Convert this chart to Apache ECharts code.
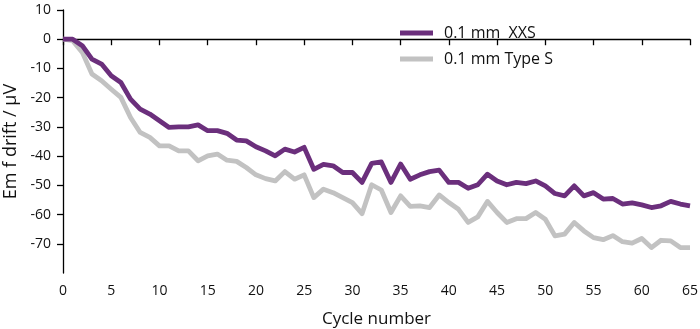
<!DOCTYPE html>
<html>
<head>
<meta charset="utf-8">
<script src="https://cdn.jsdelivr.net/npm/echarts@6/dist/echarts.min.js"></script>
<style>html,body{margin:0;padding:0;background:#fff}#c{width:700px;height:329px}</style>
</head>
<body>
<div id="c"></div>
<script>
const cycles = [0,1,2,3,4,5,6,7,8,9,10,11,12,13,14,15,16,17,18,19,20,21,22,23,24,25,26,27,28,29,30,31,32,33,34,35,36,37,38,39,40,41,42,43,44,45,46,47,48,49,50,51,52,53,54,55,56,57,58,59,60,61,62,63,64,65];
const xxs = [0,0,-2.2,-6.8,-8.5,-12.5,-14.8,-20.5,-23.9,-25.6,-27.9,-30.2,-30,-30,-29.3,-31.3,-31.3,-32.2,-34.5,-34.8,-36.8,-38.2,-39.9,-37.6,-38.6,-37.0,-44.5,-42.8,-43.3,-45.6,-45.6,-49,-42.5,-42,-49,-42.7,-47.9,-46.4,-45.3,-44.8,-49,-49,-51,-49.8,-46.2,-48.5,-49.8,-49,-49.4,-48.5,-50.2,-52.8,-53.6,-50.2,-53.6,-52.5,-54.7,-54.5,-56.4,-56,-56.7,-57.6,-57,-55.5,-56.4,-57];
const typeS = [0,-0.5,-4.5,-11.9,-14.2,-17.1,-19.9,-26.8,-31.9,-33.6,-36.5,-36.5,-38.2,-38.2,-41.6,-39.9,-39.3,-41.4,-41.8,-43.9,-46.4,-47.7,-48.5,-45.3,-47.9,-46.4,-54.2,-51.3,-52.5,-54.2,-55.9,-59.7,-49.8,-51.6,-59.3,-53.6,-57.2,-57,-57.6,-53.3,-55.9,-58.2,-62.7,-60.8,-55.5,-59.3,-62.7,-61.4,-61.4,-59.3,-61.6,-67.3,-66.7,-62.7,-65.6,-67.9,-68.6,-67.2,-69.3,-69.8,-68.2,-71.3,-68.8,-69,-71.3,-71.3];
const xTicks = [0,5,10,15,20,25,30,35,40,45,50,55,60,65];
const yTicks = [10,0,-10,-20,-30,-40,-50,-60,-70];
const seriesNames = ['0.1 mm  XXS', '0.1 mm Type S'];
const xTitle = 'Cycle number';
const yTitle = 'Em f drift / µV';

const FONT = '"Open Sans", "Noto Sans", sans-serif';
const chart = echarts.init(document.getElementById('c'), null, {renderer: 'canvas'});
const pairs = arr => cycles.map((c, i) => [c, arr[i]]);
chart.setOption({
  animation: false,
  backgroundColor: '#fff',
  grid: {left: 63, right: 10, top: 10, bottom: 56, containLabel: false, outerBoundsMode: 'none'},
  legend: {
    orient: 'vertical', left: 395, top: 20,
    icon: 'rect', itemWidth: 33, itemHeight: 5, itemGap: 10,
    textStyle: {fontFamily: FONT, fontSize: 16, color: '#111', padding: [0, 0, 0, 6]},
    data: seriesNames
  },
  xAxis: {
    type: 'value', min: 0, max: 65, interval: 5,
    name: xTitle, nameLocation: 'middle', nameGap: 38,
    nameTextStyle: {fontFamily: FONT, fontSize: 17, color: '#111'},
    axisLine: {show: true, lineStyle: {color: '#000', width: 1.3}},
    axisTick: {show: true, length: 6, lineStyle: {color: '#000', width: 1.3}, customValues: xTicks},
    axisLabel: {fontFamily: FONT, fontSize: 14, color: '#111', margin: 11, customValues: xTicks},
    splitLine: {show: false}
  },
  yAxis: {
    type: 'value', min: -80, max: 10, interval: 10,
    name: yTitle, nameLocation: 'middle', nameGap: 43, nameRotate: 90,
    nameTextStyle: {fontFamily: FONT, fontSize: 18, color: '#111'},
    axisLine: {show: true, onZero: false, lineStyle: {color: '#000', width: 1.3}},
    axisTick: {show: true, length: 6, lineStyle: {color: '#000', width: 1.3}, customValues: yTicks},
    axisLabel: {fontFamily: FONT, fontSize: 14, color: '#111', margin: 12, customValues: yTicks},
    splitLine: {show: false}
  },
  series: [
    {name: seriesNames[0], type: 'line', data: pairs(xxs), showSymbol: false, symbol: 'none',
     color: '#6b2f7c', lineStyle: {width: 4.8, color: '#6b2f7c', join: 'round'}, z: 3},
    {name: seriesNames[1], type: 'line', data: pairs(typeS), showSymbol: false, symbol: 'none',
     color: '#c2c2c2', lineStyle: {width: 4.8, color: '#c2c2c2', join: 'round'}, z: 2}
  ]
});
</script>
</body>
</html>
